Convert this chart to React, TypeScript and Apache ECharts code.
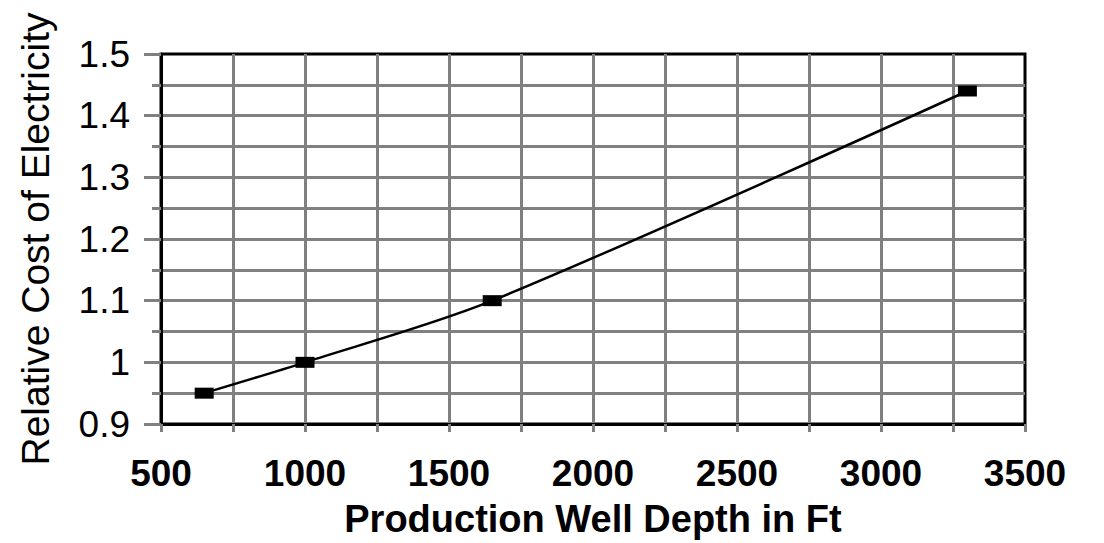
import React, { useEffect, useRef } from "react";
import * as echarts from "echarts";

const depths = [650, 1000, 1650, 3300];
const relativeCost = [0.95, 1.0, 1.1, 1.44];
const xTitle = "Production Well Depth in Ft";
const yTitle = "Relative Cost of Electricity";

export default function App() {
  const ref = useRef<HTMLDivElement>(null);
  useEffect(() => {
    if (!ref.current) return;
    const chart = echarts.init(ref.current, null, { renderer: "svg" });
    const font = "'Liberation Sans', Arial, sans-serif";
    const gray = "#808080";
    chart.setOption({
      animation: false,
      backgroundColor: "#ffffff",
      grid: {
        left: 161,
        right: 79,
        top: 54,
        bottom: 108,
        show: true,
        borderColor: "#000",
        borderWidth: 3,
        containLabel: false,
      },
      xAxis: {
        type: "value",
        min: 500,
        max: 3500,
        interval: 500,
        name: xTitle,
        nameLocation: "middle",
        nameGap: 76,
        nameTextStyle: { fontFamily: font, fontSize: 38, fontWeight: "bold", color: "#000" },
        axisLine: { show: true, lineStyle: { color: "#000", width: 3 } },
        axisTick: { show: true, length: 8, lineStyle: { color: gray, width: 3 } },
        minorTick: { show: true, splitNumber: 2, length: 8, lineStyle: { color: gray, width: 3 } },
        axisLabel: {
          margin: 31,
          fontFamily: font,
          fontSize: 37,
          fontWeight: "bold",
          color: "#000",
          formatter: (v: number) => String(v),
        },
        splitLine: { show: true, showMinLine: false, showMaxLine: false, lineStyle: { color: gray, width: 3 } },
        minorSplitLine: { show: true, lineStyle: { color: gray, width: 3 } },
      },
      yAxis: {
        type: "value",
        min: 0.9,
        max: 1.5,
        interval: 0.1,
        name: yTitle,
        nameLocation: "middle",
        nameGap: 106,
        nameRotate: 90,
        nameTextStyle: { fontFamily: font, fontSize: 39, color: "#000" },
        axisLine: { show: true, lineStyle: { color: "#000", width: 3 } },
        axisTick: { show: true, length: 17, lineStyle: { color: gray, width: 3 } },
        minorTick: { show: true, splitNumber: 2, length: 9, lineStyle: { color: gray, width: 3 } },
        axisLabel: {
          margin: 31,
          fontFamily: font,
          fontSize: 37,
          color: "#000",
          formatter: (v: number) => String(Math.round(v * 10) / 10),
        },
        splitLine: { show: true, showMinLine: false, showMaxLine: false, lineStyle: { color: gray, width: 3 } },
        minorSplitLine: { show: true, lineStyle: { color: gray, width: 3 } },
      },
      series: [
        {
          type: "line",
          data: depths.map((d, i) => [d, relativeCost[i]]),
          smooth: 0.3,
          symbol: "rect",
          symbolSize: [19, 11],
          showAllSymbol: true,
          itemStyle: { color: "#000" },
          lineStyle: { color: "#000", width: 2.5 },
          z: 5,
        },
      ],
    });
    return () => chart.dispose();
  }, []);
  return (
    <div
      ref={ref}
      style={{ position: "fixed", left: 0, top: 0, width: 1104, height: 543, background: "#fff" }}
    />
  );
}
